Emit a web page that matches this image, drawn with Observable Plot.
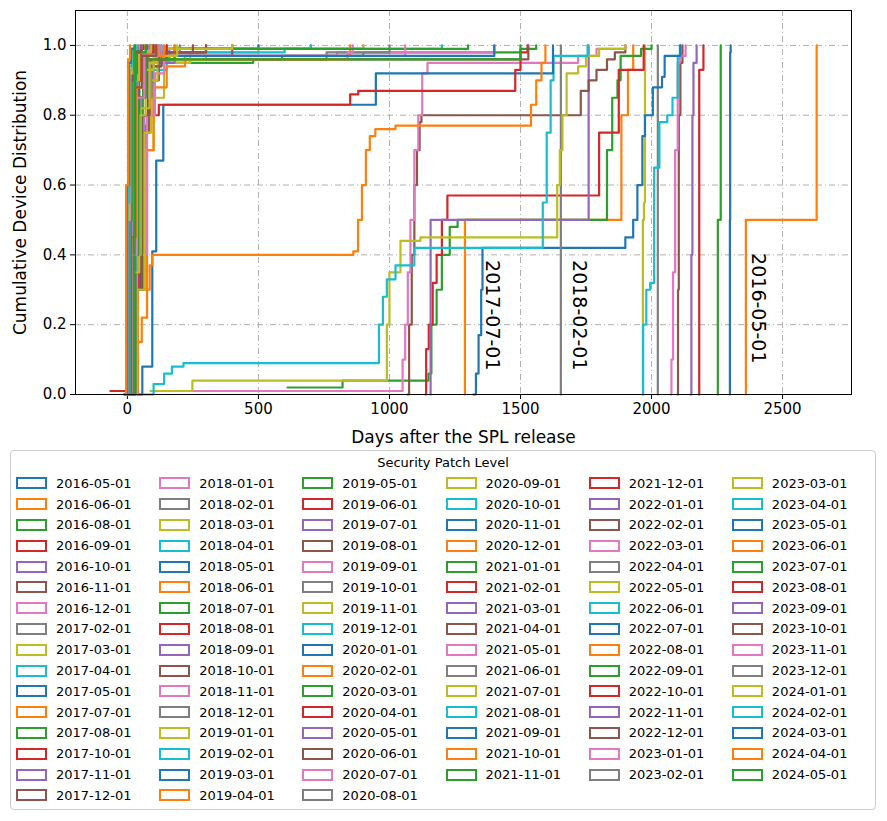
<!DOCTYPE html>
<html>
<head>
<meta charset="utf-8">
<script src="https://cdn.jsdelivr.net/npm/d3@7"></script>
<script src="https://cdn.jsdelivr.net/npm/@observablehq/plot@0.6"></script>
<style>
  body { margin: 0; background: white; font-family: "DejaVu Sans", sans-serif; }
  #legend { position: absolute; left: 10px; top: 450px; width: 866px; height: 360px; border: 1px solid #ccc; border-radius: 4px; box-sizing: border-box; }
  #legend .title { text-align: center; font-size: 13px; margin-top: 4px; height: 18px; }
  #legend .cols { display: flex; padding-left: 5px; }
  #legend .col { width: 147.5px; }
  #legend .item { height: 20.8px; display: flex; align-items: center; font-size: 13px; }
  #legend .sw { width: 27px; height: 8px; border: 2.2px solid; margin-right: 9px; box-sizing: content-box; }
</style>
</head>
<body>
<div id="chart"></div>
<div id="legend"></div>
<script>
const spl = ["2016-05-01","2016-06-01","2016-08-01","2016-09-01","2016-10-01","2016-11-01","2016-12-01",
  "2017-02-01","2017-03-01","2017-04-01","2017-05-01","2017-07-01","2017-08-01","2017-10-01","2017-11-01","2017-12-01",
  "2018-01-01","2018-02-01","2018-03-01","2018-04-01","2018-05-01","2018-06-01","2018-07-01","2018-08-01","2018-09-01",
  "2018-10-01","2018-11-01","2018-12-01","2019-01-01","2019-02-01","2019-03-01","2019-04-01","2019-05-01","2019-06-01",
  "2019-07-01","2019-08-01","2019-09-01","2019-10-01","2019-11-01","2019-12-01","2020-01-01","2020-02-01","2020-03-01",
  "2020-04-01","2020-05-01","2020-06-01","2020-07-01","2020-08-01","2020-09-01","2020-10-01","2020-11-01","2020-12-01",
  "2021-01-01","2021-02-01","2021-03-01","2021-04-01","2021-05-01","2021-06-01","2021-07-01","2021-08-01","2021-09-01",
  "2021-10-01","2021-11-01","2021-12-01","2022-01-01","2022-02-01","2022-03-01","2022-04-01","2022-05-01","2022-06-01",
  "2022-07-01","2022-08-01","2022-09-01","2022-10-01","2022-11-01","2022-12-01","2023-01-01","2023-02-01","2023-03-01",
  "2023-04-01","2023-05-01","2023-06-01","2023-07-01","2023-08-01","2023-09-01","2023-10-01","2023-11-01","2023-12-01",
  "2024-01-01","2024-02-01","2024-03-01","2024-04-01","2024-05-01"];

// step points "days:cdf", one string per SPL (same order as spl)
const steps = [
  "2298:0 2299:0.5 2300:0.98 2302:1",
  "2359:0 2360:0.5 2630:1",
  "2252:0 2253:0.5 2262:0.5 2264:1",
  "2180:0 2182:0.93 2196:0.93 2198:1",
  "2149:0 2152:0.4 2156:0.8 2160:0.95 2172:1",
  "2099:0 2101:0.3 2104:0.8 2110:0.95 2118:1",
  "2073:0 2076:0.1 2082:0.35 2090:0.7 2100:0.95 2108:0.97 2130:1",
  "2023:0 2024:1",
  "1966:0 1967:0.5 1971:0.55 1975:1",
  "1966:0 1968:0.2 1980:0.3 1995:0.32 2010:0.65 2030:0.78 2060:0.8 2080:0.85 2100:0.97 2108:1",
  "1320:0 1330:0.06 1340:0.17 1350:0.3 1355:0.42 1900:0.45 1930:0.5 1946:0.6 1965:0.74 1975:0.8 2005:0.88 2040:0.91 2050:0.97 2110:1",
  "1286:0 1288:0.5 1880:0.5 1885:0.8 1910:0.93 1930:1",
  "611:0.02 821:0.04 1149:0.06 1160:0.2 1180:0.3 1200:0.4 1230:0.48 1260:0.5 1817:0.5 1830:0.7 1850:0.85 1870:0.9 1882:0.97 1960:0.99 2000:1",
  "1137:0 1140:0.13 1150:0.2 1165:0.32 1180:0.4 1200:0.5 1221:0.57 1786:0.57 1800:0.75 1870:0.75 1875:0.93 1960:0.93 1970:1",
  "1156:0 1157:0.5 1755:0.5 1760:1",
  "1069:0 1075:0.2 1085:0.4 1095:0.6 1105:0.7 1115:0.78 1122:0.8 1715:0.8 1730:0.87 1760:0.9 1790:0.93 1830:0.96 1860:0.98 1900:1",
  "240:0.01 1040:0.01 1050:0.1 1060:0.2 1070:0.35 1080:0.5 1095:0.7 1110:0.8 1125:0.92 1145:0.95 1690:0.95 1720:0.97 1790:0.99 1900:1",
  "1653:0 1654:1",
  "88:0.01 248:0.04 985:0.04 990:0.2 1000:0.35 1042:0.44 1118:0.45 1630:0.45 1640:0.6 1650:0.7 1660:0.8 1676:0.92 1720:0.94 1750:0.97 1800:0.99 1900:1",
  "40:0 100:0.03 140:0.06 170:0.08 214:0.09 954:0.09 960:0.2 975:0.28 990:0.33 1023:0.37 1095:0.42 1576:0.42 1585:0.55 1600:0.75 1615:0.9 1626:0.97 1756:1",
  "40:0 57:0.08 90:0.08 95:0.41 107:0.41 110:0.67 135:0.67 137:0.83 946:0.83 948:0.92 1620:0.92 1624:1",
  "20:0 25:0.1 35:0.15 55:0.22 75:0.3 85:0.37 95:0.4 862:0.41 880:0.5 895:0.6 910:0.7 925:0.74 946:0.76 1023:0.77 1519:0.77 1540:0.83 1560:0.9 1580:0.95 1595:1",
  "10:0 20:0.5 35:0.85 60:0.94 100:0.95 400:0.95 480:0.96 590:0.97 900:0.98 1500:0.99 1560:1",
  "-65:0.01 5:0.01 20:0.3 45:0.6 70:0.77 90:0.8 120:0.83 821:0.83 850:0.86 881:0.87 1470:0.87 1480:0.93 1500:0.98 1527:1",
  "10:0 30:0.4 60:0.8 90:0.95 160:0.99 400:1",
  "10:0 25:0.3 50:0.75 80:0.93 100:0.96 1520:0.96 1530:1",
  "10:0 35:0.4 65:0.8 100:0.95 220:0.97 800:0.98 1400:1",
  "5:0 30:0.5 60:0.85 95:0.94 130:0.96 700:0.96 760:0.98 1000:1",
  "15:0 40:0.3 70:0.7 100:0.85 140:0.95 240:0.98 500:1",
  "10:0 35:0.4 60:0.8 90:0.93 150:0.98 600:0.99 1200:1",
  "5:0 25:0.3 55:0.8 80:0.97 130:0.99 500:1",
  "15:0 40:0.3 75:0.7 100:0.88 150:0.94 220:0.96 840:0.97 850:1",
  "5:0 20:0.5 45:0.9 70:0.97 180:0.99 700:1",
  "5:0 25:0.4 50:0.8 80:0.95 120:0.98 300:1",
  "5:0 30:0.5 55:0.85 90:0.95 180:0.99 900:1",
  "10:0 30:0.3 60:0.75 85:0.9 120:0.97 400:1",
  "10:0 35:0.4 75:0.8 105:0.92 140:0.97 840:0.98 860:1",
  "5:0 20:0.5 40:0.9 70:0.97 180:1",
  "10:0 35:0.3 65:0.75 90:0.9 115:0.96 300:0.99 900:1",
  "5:0 30:0.4 55:0.85 90:0.96 150:0.99 700:1",
  "5:0 25:0.45 45:0.88 70:0.97 130:1",
  "0:0 18:0.5 40:0.9 70:0.98 250:1",
  "5:0 30:0.4 55:0.85 85:0.96 180:0.99 1300:1",
  "5:0 25:0.5 45:0.85 75:0.96 150:1",
  "0:0 20:0.4 40:0.85 65:0.97 120:1",
  "10:0 30:0.35 55:0.8 85:0.94 130:0.98 300:1",
  "5:0 25:0.4 50:0.85 80:0.97 1060:1",
  "0:0 18:0.5 40:0.88 70:0.98 200:1",
  "5:0 25:0.4 50:0.82 85:0.95 110:0.99 400:1",
  "0:0 18:0.45 38:0.9 60:0.98 130:1",
  "5:0 25:0.4 45:0.85 75:0.97 1400:1",
  "0:0 16:0.5 35:0.9 60:0.97 180:1",
  "0:0 14:0.5 30:0.92 55:0.98 110:1",
  "5:0 22:0.4 42:0.85 70:0.96 150:1",
  "0:0 16:0.5 34:0.9 60:0.98 110:1",
  "5:0 22:0.45 42:0.88 75:0.98 250:1",
  "0:0 16:0.5 35:0.88 60:0.97 130:1",
  "0:0 12:0.5 28:0.9 50:0.98 100:1",
  "5:0 22:0.35 45:0.8 70:0.93 100:0.97 190:1",
  "0:0 16:0.45 34:0.88 60:0.98 120:1",
  "0:0 12:0.5 30:0.9 55:0.98 110:1",
  "0:0 16:0.45 36:0.88 65:0.97 140:1",
  "5:0 20:0.4 42:0.85 70:0.96 1500:1",
  "0:0 12:0.5 30:0.92 55:0.99 100:1",
  "0:0 14:0.45 32:0.9 58:0.98 105:1",
  "0:0 12:0.5 28:0.9 50:0.98 95:1",
  "0:0 16:0.4 36:0.85 65:0.97 120:1",
  "-2:0 10:0.5 26:0.92 48:0.99 90:1",
  "-5:0 12:0.45 28:0.9 50:0.98 100:1",
  "0:0 14:0.5 30:0.9 55:0.98 110:1",
  "-5:0 10:0.5 24:0.9 45:0.98 90:1",
  "0:0 14:0.45 32:0.88 58:0.97 115:1",
  "-5:0 9:0.5 22:0.92 42:0.99 85:1",
  "0:0 12:0.5 28:0.9 50:0.98 100:1",
  "-5:0 9:0.5 21:0.9 40:0.98 90:1",
  "0:0 14:0.45 30:0.88 55:0.97 110:1",
  "-5:0 8:0.5 20:0.9 38:0.98 80:1",
  "-8:0 7:0.5 18:0.92 36:0.99 75:1",
  "0:0 10:0.5 24:0.9 45:0.98 90:1",
  "-8:0 6:0.5 16:0.9 32:0.98 70:1",
  "-5:0 8:0.5 18:0.92 35:0.99 75:1",
  "-8:0 5:0.5 15:0.92 30:0.99 65:1",
  "-5:0 6:0.5 16:0.9 32:0.98 70:1",
  "-10:0 4:0.5 13:0.92 26:0.99 60:1",
  "-8:0 4:0.55 13:0.92 26:0.99 55:1",
  "-10:0 2:0.5 10:0.9 22:0.98 50:1",
  "-8:0 3:0.5 11:0.92 22:0.99 45:1",
  "-10:0 1:0.6 9:0.93 20:0.99 40:1",
  "-12:0 -2:0.5 7:0.92 16:0.99 35:1",
  "-10:0 0:0.55 7:0.94 16:0.99 32:1",
  "-12:0 -3:0.6 5:0.95 13:0.99 28:1",
  "-15:0 -5:0.6 3:0.96 10:1",
  "20:0 27:1"
];

const tab10 = ["#1f77b4","#ff7f0e","#2ca02c","#d62728","#9467bd","#8c564b","#e377c2","#7f7f7f","#bcbd22","#17becf"];
const colors = spl.map((s, i) => tab10[i % 10]);

const xTicks = [0, 500, 1000, 1500, 2000, 2500];
const yTicks = [0, 0.2, 0.4, 0.6, 0.8, 1.0];

const labels = [
  {x: 1393, y: 0.385, text: "2017-07-01"},
  {x: 1725, y: 0.385, text: "2018-02-01"},
  {x: 2405, y: 0.405, text: "2016-05-01"}
];

const rows = [];
steps.forEach((s, i) => {
  s.split(" ").forEach(p => {
    const [d, c] = p.split(":").map(Number);
    rows.push({spl: spl[i], days: d, cdf: c});
  });
});

const chart = Plot.plot({
  width: 887,
  height: 448,
  marginLeft: 75,
  marginRight: 36,
  marginTop: 10,
  marginBottom: 54,
  style: {fontFamily: "DejaVu Sans", fontSize: "15px", color: "black"},
  x: {domain: [-198, 2763], ticks: xTicks, tickFormat: d3.format("d"), label: "Days after the SPL release", labelArrow: "none", labelAnchor: "center", labelOffset: 48, tickSize: 5},
  y: {domain: [0, 1.1], ticks: yTicks, tickFormat: d3.format(".1f"), label: "Cumulative Device Distribution", labelArrow: "none", labelAnchor: "center", labelOffset: 62, tickSize: 5},
  color: {domain: spl, range: colors},
  marks: [
    Plot.gridX(xTicks, {stroke: "#b0b0b0", strokeOpacity: 1, strokeDasharray: "6,3,1,3"}),
    Plot.gridY(yTicks, {stroke: "#b0b0b0", strokeOpacity: 1, strokeDasharray: "6,3,1,3"}),
    Plot.line(rows, {x: "days", y: "cdf", z: "spl", stroke: "spl", strokeWidth: 2.2, curve: "step-after"}),
    Plot.text(labels, {x: "x", y: "y", text: "text", rotate: 90, textAnchor: "start", fontSize: 19, fill: "black"}),
    Plot.frame({stroke: "black"})
  ]
});
chart.querySelectorAll("[aria-label='x-axis label'] text, [aria-label='y-axis label'] text, [aria-label='x-axis label'], [aria-label='y-axis label']").forEach(t => t.style.fontSize = "17px");
d3.select("#chart").append(() => chart);

// legend: 6 columns, first 3 with 16 entries, the rest with 15
const colSizes = [16, 16, 16, 15, 15, 15];
const leg = d3.select("#legend");
leg.append("div").attr("class", "title").text("Security Patch Level");
const cols = leg.append("div").attr("class", "cols");
let k = 0;
colSizes.forEach(n => {
  const col = cols.append("div").attr("class", "col");
  for (let j = 0; j < n; j++, k++) {
    const it = col.append("div").attr("class", "item");
    it.append("span").attr("class", "sw").style("border-color", colors[k]);
    it.append("span").text(spl[k]);
  }
});
</script>
</body>
</html>
